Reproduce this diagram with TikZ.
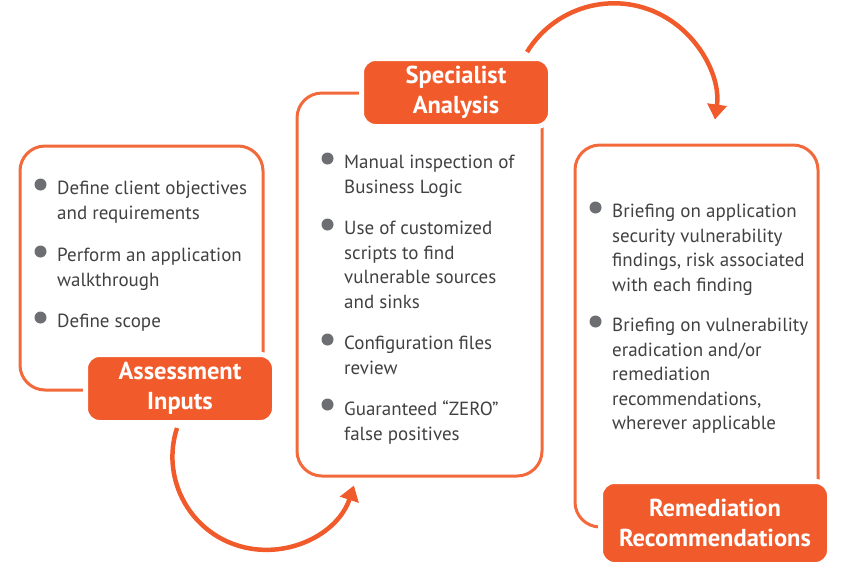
\documentclass[tikz,border=0pt]{standalone}
\usepackage{fontspec}
\setmainfont{PT Sans}
\usetikzlibrary{arrows.meta,positioning}
\definecolor{orng}{HTML}{F15A2B}
\definecolor{boxln}{HTML}{F26A3B}
\definecolor{txt}{HTML}{414042}
\definecolor{dotgray}{HTML}{6D6E71}
\tikzset{
  outline/.style={draw=boxln,line width=3pt,rounded corners=25pt},
  stage/.style={fill=orng,draw=white,line width=5pt,rounded corners=14pt,text=white,
    font=\bfseries\fontsize{24.5}{30}\selectfont,align=center,inner sep=0pt},
  item/.style={anchor=north west,inner sep=0pt,align=left,text=txt,
    font=\fontsize{19}{24.5}\selectfont},
  flow/.style={draw=orng,line width=4.5pt,-{Triangle[length=15pt,width=19pt]}}
}

\begin{document}
\begin{tikzpicture}[x=1pt,y=1pt]
\useasboundingbox (0,0) rectangle (850,-574);
% outlines
\draw[outline] (20,-146) rectangle (263,-390);
\draw[outline] (297,-93) rectangle (542,-476);
\draw[outline] (575,-145) rectangle (818,-527);
% assessment inputs
\node[item] (a1) at (57,-181) {Define client objectives\\and requirements};
\node[item] (a2) at (57,-248) {Perform an application\\walkthrough};
\node[item] (a3) at (57,-314) {Define scope};
% specialist analysis
\node[item] (s1) at (344,-155) {Manual inspection of\\Business Logic};
\node[item] (s2) at (344,-221) {Use of customized\\scripts to find\\vulnerable sources\\and sinks};
\node[item] (s3) at (344,-336) {Configuration files\\review};
\node[item] (s4) at (344,-401) {Guaranteed “ZERO”\\false positives};
% remediation
\node[item] (r1) at (612,-204) {Briefing on application\\security vulnerability\\findings, risk associated\\with each finding};
\node[item] (r2) at (612,-318) {Briefing on vulnerability\\eradication and/or\\remediation\\recommendations,\\wherever applicable};
\foreach \n in {a1,a2,a3,s1,s2,s3,s4,r1,r2}
  \fill[dotgray] ([xshift=-16.5pt,yshift=-3.5pt]\n.north west) circle[radius=6];
% labels
\node[stage,minimum width=189pt,minimum height=68pt] (inputs) at (180,-388.5) {Assessment\\Inputs};
\node[stage,minimum width=189pt,minimum height=68pt] (special) at (456,-92.5) {Specialist\\Analysis};
\node[stage,minimum width=229pt,minimum height=83pt] (remed) at (715,-523) {Remediation\\Recommendations};
% arrows
\draw[flow] ([xshift=-3pt,yshift=-3pt]inputs.south) arc[start angle=162,end angle=342,radius=93];
\draw[flow] ([xshift=71pt,yshift=4pt]special.north) arc[start angle=148.5,end angle=-8,radius=102];
\end{tikzpicture}
\end{document}
